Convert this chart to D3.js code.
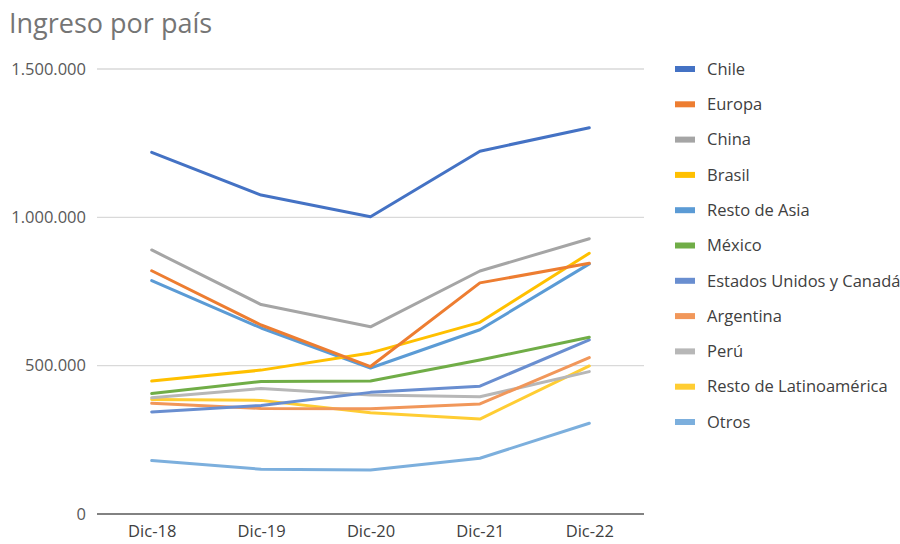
<!DOCTYPE html>
<html>
<head>
<meta charset="utf-8">
<script src="https://cdn.jsdelivr.net/npm/d3@7/dist/d3.min.js"></script>
<style>
  body { margin: 0; background: #fff; }
  svg { display: block; font-family: "Open Sans", "Noto Sans", sans-serif; }
</style>
</head>
<body>
<svg id="chart" width="900" height="544"></svg>
<script>
// Periods on the x axis
const periods = ["Dic-18", "Dic-19", "Dic-20", "Dic-21", "Dic-22"];

// Income per country / region, one array per series
const chile        = [1219000, 1075000, 1002000, 1223000, 1302000];
const europa       = [820000, 637000, 497000, 779000, 845000];
const china        = [890000, 706000, 631000, 819000, 928000];
const brasil       = [448000, 485000, 543000, 646000, 879000];
const restoAsia    = [787000, 627000, 492000, 621000, 843000];
const mexico       = [406000, 447000, 448000, 519000, 596000];
const eeuuCanada   = [344000, 366000, 410000, 431000, 587000];
const argentina    = [373000, 356000, 355000, 371000, 527000];
const peru         = [392000, 423000, 401000, 395000, 480000];
const restoLatam   = [386000, 383000, 341000, 320000, 499000];
const otros        = [180000, 151000, 148000, 188000, 306000];

// Y axis tick values and their labels
const yTicks = [0, 500000, 1000000, 1500000];
const yTickLabels = ["0", "500.000", "1.000.000", "1.500.000"];

const seriesNames = ["Chile", "Europa", "China", "Brasil", "Resto de Asia", "México",
  "Estados Unidos y Canadá", "Argentina", "Perú", "Resto de Latinoamérica", "Otros"];
const seriesValues = [chile, europa, china, brasil, restoAsia, mexico,
  eeuuCanada, argentina, peru, restoLatam, otros];
const seriesColors = ["#4472C4", "#ED7D31", "#A5A5A5", "#FFC000", "#5B9BD5", "#70AD47",
  "#698ED0", "#F1975A", "#B7B7B7", "#FFCD33", "#7CAFDD"];

const series = seriesNames.map((name, i) => ({
  name, color: seriesColors[i], values: seriesValues[i]
}));

const svg = d3.select("#chart");
const plot = { left: 97, right: 644, top: 69, bottom: 514 };
const labelFont = 16.5;

const x = d3.scalePoint().domain(periods)
  .range([plot.left, plot.right]).padding(0.5);
const y = d3.scaleLinear().domain([0, 1500000])
  .range([plot.bottom, plot.top]);

// Title
svg.append("text")
  .attr("x", 9).attr("y", 33)
  .attr("font-size", 27).attr("fill", "#757575")
  .text("Ingreso por país");

// Horizontal gridlines
svg.append("g").selectAll("line")
  .data(yTicks.filter(d => d > 0))
  .join("line")
  .attr("x1", plot.left).attr("x2", plot.right)
  .attr("y1", d => y(d)).attr("y2", d => y(d))
  .attr("stroke", "#D9D9D9").attr("stroke-width", 1.3);

// Y axis labels
const yAxis = d3.axisLeft(y).tickValues(yTicks)
  .tickFormat((d, i) => yTickLabels[i]).tickSize(0).tickPadding(11);
svg.append("g")
  .attr("transform", `translate(${plot.left},0)`)
  .call(yAxis)
  .call(g => g.select(".domain").remove())
  .call(g => g.selectAll("text").attr("font-size", labelFont).attr("fill", "#595959")
    .attr("font-family", "'Open Sans', sans-serif"));

// X axis (baseline) and labels
const xAxis = d3.axisBottom(x).tickSize(0).tickPadding(11);
svg.append("g")
  .attr("transform", `translate(0,${plot.bottom})`)
  .call(xAxis)
  .call(g => g.select(".domain")
    .attr("d", `M${plot.left},0H${plot.right}`)
    .attr("stroke", "#595959").attr("stroke-width", 1.3))
  .call(g => g.selectAll("text").attr("font-size", labelFont).attr("fill", "#404040")
    .attr("font-family", "'Open Sans', sans-serif"));

// Series lines
const line = d3.line()
  .x((d, i) => x(periods[i]))
  .y(d => y(d));

svg.append("g").selectAll("path")
  .data(series.slice().reverse())
  .join("path")
  .attr("d", d => line(d.values))
  .attr("fill", "none")
  .attr("stroke", d => d.color)
  .attr("stroke-width", 3)
  .attr("stroke-linejoin", "round")
  .attr("stroke-linecap", "round");

// Legend
const legend = svg.append("g").selectAll("g")
  .data(series)
  .join("g")
  .attr("transform", (d, i) => `translate(675,${69 + i * 35.3})`);
legend.append("rect")
  .attr("x", 0).attr("y", -3).attr("width", 20).attr("height", 6)
  .attr("fill", d => d.color);
legend.append("text")
  .attr("x", 32).attr("y", 0).attr("dy", "0.35em")
  .attr("font-size", labelFont).attr("fill", "#404040")
  .text(d => d.name);
</script>
</body>
</html>
